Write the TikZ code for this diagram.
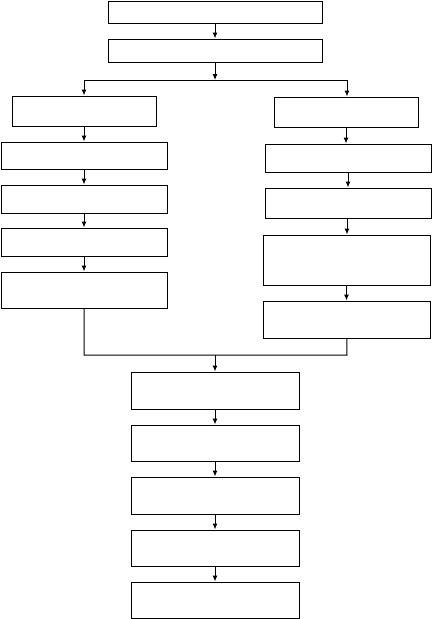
\documentclass[tikz,border=0pt]{standalone}
\usetikzlibrary{arrows.meta}
\begin{document}
\begin{tikzpicture}[x=1pt,y=-1pt,
  box/.style={draw, line width=1pt, rectangle, inner sep=0pt, fill=white},
  arr/.style={line width=1pt, -{Latex[length=6pt,width=5pt]}},
  ln/.style={line width=1pt}]
\useasboundingbox (0,0) rectangle (432,619);
% top
\node[box, minimum width=214pt, minimum height=22pt] (t1) at (215,12) {};
\node[box, minimum width=214pt, minimum height=23pt] (t2) at (215,50.5) {};
% left column
\node[box, minimum width=144pt, minimum height=30pt] (L1) at (84,111) {};
\node[box, minimum width=166pt, minimum height=27pt] (L2) at (84,155.5) {};
\node[box, minimum width=166pt, minimum height=28pt] (L3) at (84,199) {};
\node[box, minimum width=166pt, minimum height=28pt] (L4) at (84,242) {};
\node[box, minimum width=166pt, minimum height=36pt] (L5) at (84,290) {};
% right column
\node[box, minimum width=144pt, minimum height=30pt] (R1) at (346,112) {};
\node[box, minimum width=166pt, minimum height=28pt] (R2) at (348,158) {};
\node[box, minimum width=166pt, minimum height=30pt] (R3) at (348,203) {};
\node[box, minimum width=167pt, minimum height=50pt] (R4) at (346.5,260) {};
\node[box, minimum width=167pt, minimum height=37pt] (R5) at (346.5,319.5) {};
% bottom column
\node[box, minimum width=168pt, minimum height=37pt] (B1) at (215,390.5) {};
\node[box, minimum width=168pt, minimum height=36pt] (B2) at (215,443) {};
\node[box, minimum width=168pt, minimum height=37pt] (B3) at (215,495.5) {};
\node[box, minimum width=168pt, minimum height=36pt] (B4) at (215,548) {};
\node[box, minimum width=168pt, minimum height=36pt] (B5) at (215,600) {};
% split and join
\coordinate (split) at (215,80);
\coordinate (sl) at (84,80);
\coordinate (sr) at (347,80);
\coordinate (join) at (215,355);
\coordinate (jl) at (84,355);
\coordinate (jr) at (347,355);
% connectors
\draw[arr] (t1) -- (t2);
\draw[arr] (t2) -- (split);
\draw[ln] (sl) -- (sr);
\draw[arr] (sl) -- (sl |- L1.north);
\draw[arr] (sr) -- (sr |- R1.north);
\draw[arr] (L1) -- (L2);
\draw[arr] (L2) -- (L3);
\draw[arr] (L3) -- (L4);
\draw[arr] (L4) -- (L5);
\draw[arr] (R1.south) -- (R1.south |- R2.north);
\draw[arr] (R2.south) -- (R2.south |- R3.north);
\draw[arr] (R3.south -| jr) -- (jr |- R4.north);
\draw[arr] (R4) -- (R5);
\draw[ln] (L5) -- (jl) -- (jr) -- (R5);
\draw[arr] (join) -- (B1);
\draw[arr] (B1) -- (B2);
\draw[arr] (B2) -- (B3);
\draw[arr] (B3) -- (B4);
\draw[arr] (B4) -- (B5);
\end{tikzpicture}
\end{document}
